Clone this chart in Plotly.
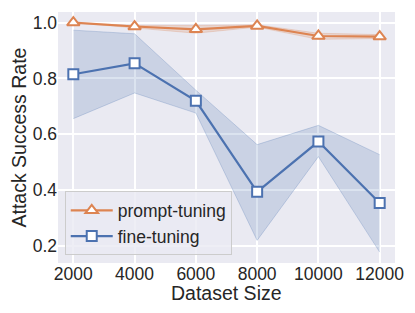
import plotly.graph_objects as go

dataset_sizes = [2000, 4000, 6000, 8000, 10000, 12000]
prompt_mean = [1.0, 0.986, 0.976, 0.988, 0.952, 0.950]
prompt_upper = [1.0, 0.99, 0.99, 0.992, 0.962, 0.957]
prompt_lower = [1.0, 0.982, 0.962, 0.984, 0.940, 0.943]
fine_mean = [0.815, 0.854, 0.720, 0.394, 0.574, 0.354]
fine_upper = [0.973, 0.960, 0.758, 0.563, 0.632, 0.527]
fine_lower = [0.656, 0.748, 0.676, 0.220, 0.520, 0.178]

blue = "#4C72B0"
orange = "#DD8452"
font_family = "Arial, Liberation Sans, DejaVu Sans, sans-serif"

fig = go.Figure()

def band(x, up, lo, color_rgba, edge_rgba):
    fig.add_trace(go.Scatter(x=x, y=up, mode="lines", line=dict(color=edge_rgba, width=1),
                             showlegend=False, hoverinfo="skip"))
    fig.add_trace(go.Scatter(x=x, y=lo, mode="lines", line=dict(color=edge_rgba, width=1),
                             fill="tonexty", fillcolor=color_rgba, showlegend=False, hoverinfo="skip"))

band(dataset_sizes, fine_upper, fine_lower, "rgba(76,114,176,0.2)", "rgba(76,114,176,0.25)")
band(dataset_sizes, prompt_upper, prompt_lower, "rgba(221,132,82,0.2)", "rgba(221,132,82,0.25)")

fig.add_trace(go.Scatter(x=dataset_sizes, y=prompt_mean, mode="lines+markers", name="prompt-tuning",
                         line=dict(color=orange, width=2.2),
                         marker=dict(symbol="triangle-up", size=11, color="white",
                                     line=dict(color=orange, width=2))))
fig.add_trace(go.Scatter(x=dataset_sizes, y=fine_mean, mode="lines+markers", name="fine-tuning",
                         line=dict(color=blue, width=2.2),
                         marker=dict(symbol="square", size=10, color="white",
                                     line=dict(color=blue, width=2))))

fig.update_layout(
    width=415, height=313,
    margin=dict(l=58, r=20, t=12, b=50),
    paper_bgcolor="white",
    plot_bgcolor="#EAEAF2",
    font=dict(family=font_family, size=17, color="#262626"),
    legend=dict(x=0.02, y=0.03, xanchor="left", yanchor="bottom",
                bgcolor="rgba(234,234,242,0.8)", bordercolor="#CCCCCC", borderwidth=1,
                font=dict(size=17.5), tracegroupgap=0, traceorder="normal", itemwidth=42),
    showlegend=True,
    annotations=[
        dict(text="Dataset Size", xref="paper", yref="paper", x=0.5, y=0,
             xanchor="center", yanchor="middle", yshift=-30, showarrow=False,
             font=dict(size=19.5)),
        dict(text="Attack Success Rate", xref="paper", yref="paper", x=0, y=0.5,
             xanchor="center", yanchor="middle", xshift=-40, textangle=-90,
             showarrow=False, font=dict(size=19.5)),
    ],
)
fig.update_xaxes(range=[1500, 12500], tickvals=dataset_sizes,
                 ticktext=[str(v) for v in dataset_sizes], automargin=False,
                 showgrid=True, gridcolor="white", gridwidth=1.5, zeroline=False,
                 showline=False, ticks="", tickfont=dict(size=17.5), ticklabelstandoff=-2)
fig.update_yaxes(range=[0.139, 1.038], tickvals=[0.2, 0.4, 0.6, 0.8, 1.0],
                 ticktext=["0.2", "0.4", "0.6", "0.8", "1.0"], automargin=False,
                 showgrid=True, gridcolor="white", gridwidth=1.5, zeroline=False,
                 showline=False, ticks="", tickfont=dict(size=17.5))

fig.write_html("out.html", config={"displayModeBar": False},
               post_script="document.body.style.margin='0';document.body.style.overflow='hidden';")
